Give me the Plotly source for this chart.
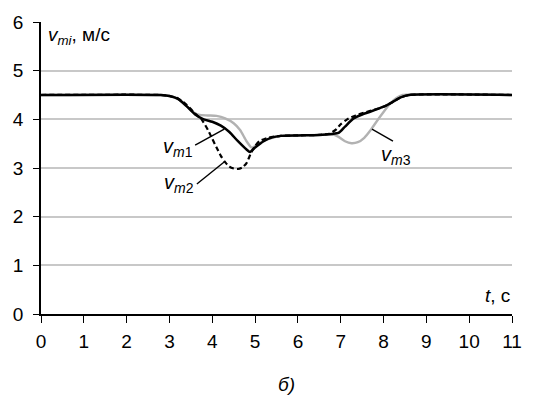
import plotly.graph_objects as go

# time axis, s
t_m1 = [0, 2.8, 3.0, 3.2, 3.4, 3.6, 3.8, 4.0, 4.2, 4.4, 4.6, 4.8, 4.88, 5.0, 5.2, 5.4, 5.6,
        6.0, 6.5, 6.8, 6.95, 7.1, 7.3, 7.5, 7.7, 8.0, 8.2, 8.4, 8.6, 11]
v_m1 = [4.5, 4.5, 4.48, 4.42, 4.27, 4.1, 4.0, 3.95, 3.87, 3.74, 3.55, 3.38, 3.33, 3.42, 3.55, 3.63, 3.66,
        3.67, 3.68, 3.7, 3.72, 3.85, 4.02, 4.1, 4.16, 4.26, 4.35, 4.45, 4.5, 4.5]

t_m2 = [0, 2.8, 3.0, 3.2, 3.4, 3.6, 3.75, 3.9, 4.0, 4.1, 4.2, 4.3, 4.4, 4.5, 4.6, 4.7, 4.8, 4.9,
        5.0, 5.1, 5.3, 5.6, 6.0, 6.5, 6.75, 6.9, 7.0, 7.15, 7.35, 7.6, 8.0, 8.2, 8.4, 8.6, 11]
v_m2 = [4.5, 4.5, 4.48, 4.43, 4.3, 4.12, 4.0, 3.78, 3.6, 3.42, 3.25, 3.12, 3.03, 2.99, 2.98, 3.01, 3.1, 3.3,
        3.45, 3.55, 3.62, 3.66, 3.67, 3.68, 3.71, 3.8, 3.9, 4.0, 4.08, 4.15, 4.26, 4.35, 4.45, 4.5, 4.5]

t_m3 = [0, 2.8, 3.0, 3.2, 3.4, 3.55, 3.7, 3.9, 4.1, 4.3, 4.5, 4.65, 4.8, 4.92, 5.05, 5.2, 5.4, 5.6,
        6.0, 6.5, 6.8, 6.95, 7.1, 7.25, 7.4, 7.55, 7.7, 7.85, 8.0, 8.15, 8.3, 8.45, 11]
v_m3 = [4.5, 4.5, 4.48, 4.42, 4.27, 4.15, 4.09, 4.08, 4.07, 4.02, 3.92, 3.78, 3.55, 3.42, 3.48, 3.56, 3.62, 3.66,
        3.67, 3.68, 3.69, 3.64, 3.55, 3.51, 3.53, 3.62, 3.78, 3.97, 4.15, 4.32, 4.44, 4.5, 4.5]

x_ticks = list(range(0, 12))
y_ticks = list(range(0, 7))

FONT = "Liberation Sans, Arial, sans-serif"
FS = 19

fig = go.Figure()
fig.add_trace(go.Scatter(x=t_m3, y=v_m3, mode="lines", line=dict(color="#b2b2b2", width=2.4, shape="spline", smoothing=0.6)))
fig.add_trace(go.Scatter(x=t_m1, y=v_m1, mode="lines", line=dict(color="black", width=2.5, shape="spline", smoothing=0.6)))
fig.add_trace(go.Scatter(x=t_m2, y=v_m2, mode="lines", line=dict(color="black", width=2.2, dash="5px,3px", shape="spline", smoothing=0.6)))

# leader lines from curve labels
leaders = [((3.6, 3.47), (4.28, 3.8)), ((3.64, 2.67), (4.3, 3.14)), ((8.22, 3.55), (7.73, 3.8))]
for (x0, y0), (x1, y1) in leaders:
    fig.add_shape(type="line", x0=x0, y0=y0, x1=x1, y1=y1, xref="x", yref="y",
                  line=dict(color="black", width=1.4))

labels = [
    (3.6, 3.43, "<i>v</i><sub><i>m</i>1</sub>", "right"),
    (3.62, 2.68, "<i>v</i><sub><i>m</i>2</sub>", "right"),
    (7.9, 3.25, "<i>v</i><sub><i>m</i>3</sub>", "left"),
]
for x, y, txt, anchor in labels:
    fig.add_annotation(x=x, y=y, text=txt, showarrow=False, xanchor=anchor, yanchor="middle",
                       font=dict(family=FONT, size=FS + 1, color="black"))

fig.add_annotation(x=0.01, y=1.0, xref="paper", yref="paper", xanchor="left", yanchor="top",
                   text="<i>v</i><sub><i>mi</i></sub>, м/с", showarrow=False,
                   font=dict(family=FONT, size=FS, color="black"))
fig.add_annotation(x=1.0, y=0.02, xref="paper", yref="paper", xanchor="right", yanchor="bottom",
                   text="<i>t</i>, с", showarrow=False, font=dict(family=FONT, size=FS, color="black"))
fig.add_annotation(x=0.522, y=-0.241, xref="paper", yref="paper", xanchor="center", yanchor="middle",
                   text="<i>б)</i>", showarrow=False, font=dict(family=FONT, size=FS, color="black"))

fig.update_layout(
    width=549, height=398,
    margin=dict(l=41, r=37, t=20, b=84),
    paper_bgcolor="white", plot_bgcolor="white",
    showlegend=False,
    font=dict(family=FONT, size=FS, color="black"),
)
fig.update_xaxes(range=[0, 11], tickvals=x_ticks, ticks="outside", ticklen=7, tickwidth=1.3,
                 tickcolor="black", showline=True, linecolor="black", linewidth=1.6,
                 showgrid=False, zeroline=False, tickfont=dict(size=FS), ticklabelstandoff=2)
fig.update_yaxes(range=[0, 6], tickvals=y_ticks, ticks="outside", ticklen=6, tickwidth=1.3,
                 tickcolor="black", showline=True, linecolor="black", linewidth=1.6,
                 showgrid=True, gridcolor="#c8c8c8", gridwidth=1.5, zeroline=False,
                 tickfont=dict(size=FS), ticklabelstandoff=6)

fig.write_html("out.html")
